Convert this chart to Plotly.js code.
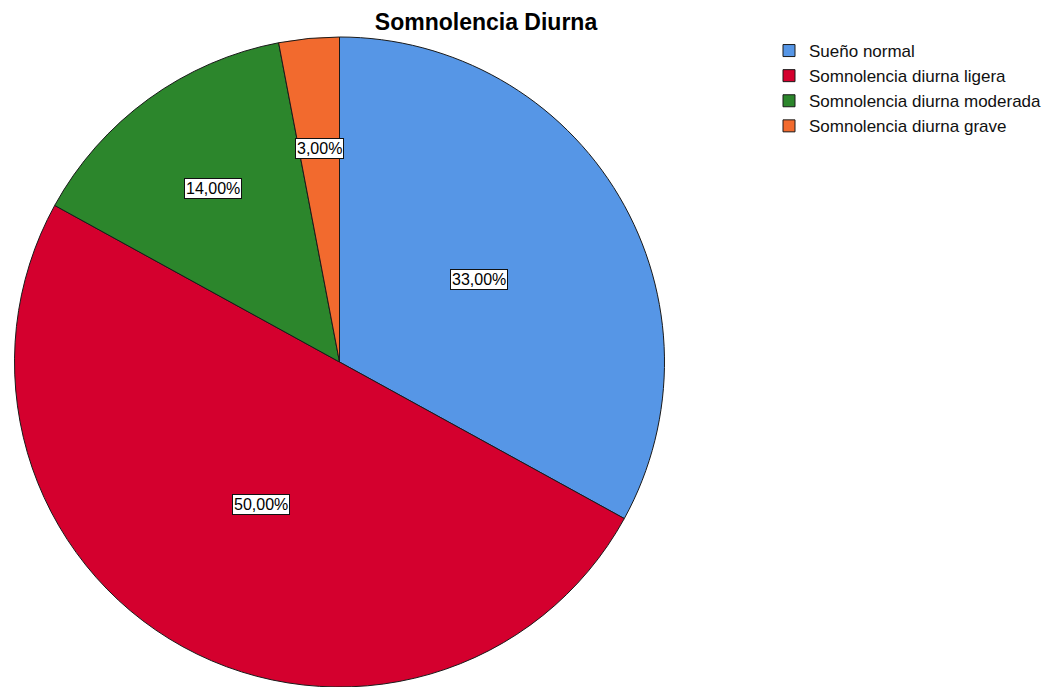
<!DOCTYPE html>
<html>
<head>
<meta charset="utf-8">
<script src="https://cdn.plot.ly/plotly-3.0.1.min.js"></script>
<style>html,body{margin:0;padding:0;background:#fff;}#chart{width:1063px;height:687px;}</style>
</head>
<body>
<div id="chart"></div>
<script>
const categories = ["Sueño normal", "Somnolencia diurna ligera", "Somnolencia diurna moderada", "Somnolencia diurna grave"];
const values = [33, 50, 14, 3];
const sliceColors = ["#5696E6", "#D4002E", "#2C862C", "#F26A2E"];

const W = 1063, H = 687;
const cxPx = 339.5, cyPx = 362, R = 325;
const domX = [(cxPx - R) / W, (cxPx + R) / W];
const domY = [(H - cyPx - R) / H, (H - cyPx + R) / H];

const total = values.reduce((a, b) => a + b, 0);
const fmt = v => (v / total * 100).toFixed(2).replace('.', ',') + '%';

const annotations = [];
let cum = 0;
values.forEach((v) => {
  const f = v / total;
  const theta = 2 * Math.PI * (cum + f / 2);
  const rf = f >= 0.25 ? 0.5 : 0.66;
  annotations.push({
    xref: 'paper', yref: 'paper',
    x: (cxPx + R * rf * Math.sin(theta)) / W,
    y: (H - cyPx + R * rf * Math.cos(theta)) / H,
    xanchor: 'center', yanchor: 'middle',
    text: fmt(v), showarrow: false,
    font: {family: 'Liberation Sans, Arial, sans-serif', size: 16, color: '#000'},
    bgcolor: '#fff', bordercolor: '#111', borderwidth: 1, borderpad: 1
  });
  cum += f;
});

const trace = {
  type: 'pie',
  labels: categories,
  values: values,
  sort: false,
  direction: 'clockwise',
  rotation: 0,
  textinfo: 'none',
  hoverinfo: 'label+percent',
  marker: {colors: sliceColors, line: {color: '#1a1a1a', width: 1}},
  domain: {x: domX, y: domY}
};

const layout = {
  width: W, height: H,
  margin: {l: 0, r: 0, t: 0, b: 0},
  paper_bgcolor: '#fff',
  showlegend: true,
  title: {
    text: '<b>Somnolencia Diurna</b>',
    x: 486 / W, xanchor: 'center', xref: 'paper',
    y: 1 - 22 / H, yanchor: 'middle', yref: 'paper',
    font: {family: 'Liberation Sans, Arial, sans-serif', size: 23, color: '#000'}
  },
  legend: {
    x: 769 / W, xanchor: 'left',
    y: 1 - 33 / H, yanchor: 'top',
    font: {family: 'Liberation Sans, Arial, sans-serif', size: 17, color: '#111'},
    bgcolor: 'rgba(0,0,0,0)'
  },
  annotations: annotations
};

Plotly.newPlot('chart', [trace], layout, {displayModeBar: false});
</script>
</body>
</html>
